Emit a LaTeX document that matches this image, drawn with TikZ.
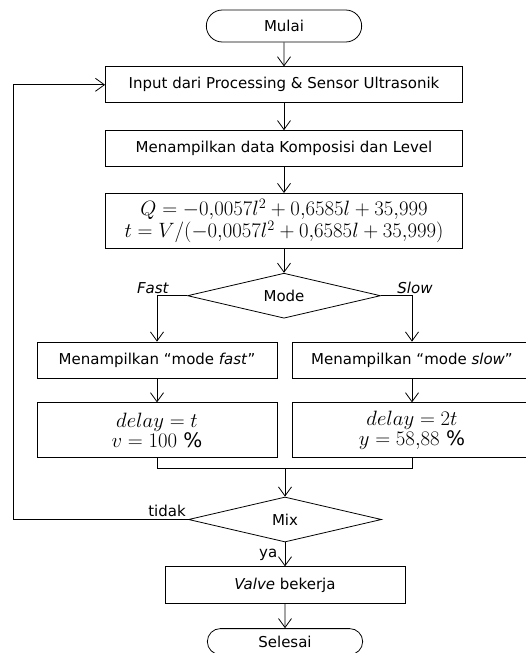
\documentclass[tikz,border=0pt]{standalone}
\usepackage{fontspec}
\usepackage{amsmath}
\setmainfont{DejaVu Sans}
\usetikzlibrary{shapes.geometric, shapes.misc, arrows.meta, positioning, calc}

\begin{document}
\begin{tikzpicture}[
    node distance=24pt,
    every node/.style={font=\fontsize{15}{17}\selectfont},
    termnode/.style={rounded rectangle, draw, minimum width=162pt, minimum height=32pt, line width=0.8pt},
    procnode/.style={draw, rectangle, minimum width=357pt, minimum height=36pt, align=center, line width=0.8pt},
    branchnode/.style={draw, rectangle, minimum width=240pt, minimum height=36pt, align=center, line width=0.8pt},
    mathnode/.style={draw, rectangle, minimum height=55pt, inner sep=2pt, align=center, line width=0.8pt,
                     font=\fontsize{20}{20}\selectfont},
    decision/.style={diamond, draw, aspect=4.3, minimum width=193pt, minimum height=45pt,
                     inner sep=0pt, line width=0.8pt},
    conn/.style={-{Straight Barb[length=9pt, width=13pt]}, line width=0.8pt},
    line/.style={line width=0.8pt}
]
    \path[use as bounding box, clip] (0,0) rectangle (526pt,-653pt);

    % main column
    \node[termnode] (mulai) at (284pt,-26pt) {Mulai};
    \node[procnode, below=24pt of mulai] (input) {Input dari Processing \& Sensor Ultrasonik};
    \node[procnode, below=27pt of input] (data) {Menampilkan data Komposisi dan Level};
    \node[procnode, mathnode, below=26pt of data] (rumus)
        {$Q = -0{,}0057l^2 + 0{,}6585l + 35{,}999$\\
         $t = V/(-0{,}0057l^2 + 0{,}6585l + 35{,}999)$};
    \node[decision, below=24pt of rumus] (mode) {Mode};

    % branches
    \node[branchnode] (fast) at (157pt,-360pt) {Menampilkan ``mode \textit{fast}''};
    \node[branchnode] (slow) at (412pt,-360pt) {Menampilkan ``mode \textit{slow}''};
    \node[branchnode, mathnode, below=24pt of fast] (delayf) {$delay = t$\\ $v = 100$ \%};
    \node[branchnode, mathnode, below=24pt of slow] (delays) {$delay = 2t$\\ $y = 58{,}88$ \%};

    \node[decision] (mix) at (285pt,-519.5pt) {Mix};
    \coordinate[above=28pt of mix.north] (join);
    \node[branchnode, minimum height=37pt, below=24pt of mix] (valve) {\textit{Valve} bekerja};
    \node[termnode, minimum height=26pt, below=24pt of valve] (selesai) {Selesai};

    \draw[conn] (mulai) -- (input);
    \draw[conn] (input) -- (data);
    \draw[conn] (data) -- (rumus);
    \draw[conn] (rumus) -- (mode);
    \draw[conn] (mode.west) -| node[pos=0.5, above, xshift=-4pt, inner sep=2pt] {\textit{Fast}} (fast.north);
    \draw[conn] (mode.east) -| node[pos=0.5, above, xshift=3pt, inner sep=2pt] {\textit{Slow}} (slow.north);
    \draw[conn] (fast) -- (delayf);
    \draw[conn] (slow) -- (delays);
    \draw[line] (delayf.south) |- (join) -| (delays.south);
    \draw[conn] (join) -- (mix);
    \draw[conn] (mix.west) node[above left, inner sep=2pt] {tidak} -- ++(-175pt,0) |- (input.west);
    \draw[conn] (mix) -- node[left, xshift=-4pt] {ya} (valve);
    \draw[conn] (valve) -- (selesai);
\end{tikzpicture}
\end{document}
